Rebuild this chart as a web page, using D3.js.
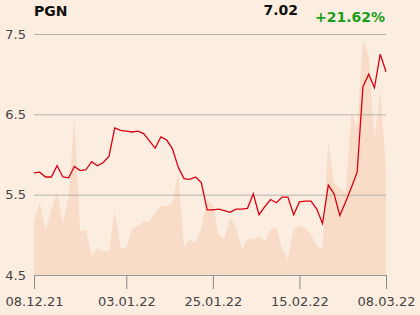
<!DOCTYPE html>
<html>
<head>
<meta charset="utf-8">
<script src="https://cdn.jsdelivr.net/npm/d3@7"></script>
<style>
  html, body { margin: 0; padding: 0; background: #fcede1; }
  svg { display: block; font-family: "DejaVu Sans", sans-serif; }
</style>
</head>
<body>
<svg id="chart" width="420" height="315"></svg>
<script>
// === DATA ===
const ticker = "PGN";
const lastPrice = "7.02";
const change = "+21.62%";

// sessions (index) and labels shown on the x axis
const xTickIdx = [0, 16, 31, 46, 61];
const xTickLabels = ["08.12.21", "03.01.22", "25.01.22", "15.02.22", "08.03.22"];
const yTicks = [4.5, 5.5, 6.5, 7.5];

// closing price, one value per session
const prices = [
  5.77, 5.78, 5.72, 5.72, 5.86, 5.72, 5.71, 5.85, 5.80, 5.81,
  5.91, 5.86, 5.90, 5.98, 6.33, 6.30, 6.29, 6.28, 6.29, 6.26,
  6.17, 6.08, 6.22, 6.18, 6.07, 5.84, 5.70, 5.69, 5.72, 5.65,
  5.31, 5.31, 5.32, 5.30, 5.28, 5.32, 5.32, 5.33, 5.51, 5.25,
  5.35, 5.44, 5.40, 5.47, 5.47, 5.25, 5.41, 5.42, 5.42, 5.32,
  5.14, 5.62, 5.51, 5.24, 5.41, 5.59, 5.78, 6.84, 7.00, 6.83,
  7.25, 7.03
];

// volume (background area)
const volumes = [
  533, 733, 440, 650, 833, 517, 783, 1590, 440, 450,
  190, 267, 240, 240, 643, 267, 273, 467, 490, 540,
  527, 623, 690, 693, 717, 1033, 273, 357, 323, 470,
  750, 700, 400, 370, 573, 483, 260, 357, 357, 390,
  340, 450, 477, 260, 157, 467, 490, 467, 407, 290,
  257, 1350, 917, 867, 817, 1617, 1483, 2350, 2200, 1350,
  1850, 1050
];

// === CONFIG ===
const margin = { top: 34, right: 34, bottom: 40, left: 34 };
const W = 420, H = 315;
const width = W - margin.left - margin.right;
const height = H - margin.top - margin.bottom;
const colors = { line: "#d7000f", area: "#f8dcc8", grid: "#b3b3b3", text: "#444", up: "#1a9e1a" };

const svg = d3.select("#chart");
const g = svg.append("g").attr("transform", `translate(${margin.left},${margin.top})`);

const x = d3.scaleLinear().domain([0, prices.length - 1]).range([0, width]);
const y = d3.scaleLinear().domain([4.5, 7.5]).range([height, 0]);
const yVol = d3.scaleLinear().domain([0, 2410]).range([height, 0]);

// volume area
g.append("path")
  .datum(volumes)
  .attr("fill", colors.area)
  .attr("d", d3.area().x((d, i) => x(i)).y0(height).y1(d => yVol(d)));

// grid lines
g.append("g")
  .call(d3.axisLeft(y).tickValues(yTicks.filter(t => t > 4.5)).tickSize(-width).tickFormat(""))
  .call(a => a.select(".domain").remove())
  .selectAll("line").attr("stroke", colors.grid);

// y labels
g.append("g")
  .selectAll("text")
  .data(yTicks)
  .enter()
  .append("text")
  .attr("x", -8)
  .attr("y", d => y(d))
  .attr("dy", "0.35em")
  .attr("text-anchor", "end")
  .style("font-size", "13px")
  .attr("fill", colors.text)
  .text(d => d.toFixed(1));

// x axis
const xAxis = g.append("g")
  .attr("transform", `translate(0,${height})`)
  .call(d3.axisBottom(x).tickValues(xTickIdx).tickSize(14).tickPadding(8)
    .tickFormat((d, i) => xTickLabels[i]));
xAxis.select(".domain").attr("stroke", "#999");
xAxis.selectAll("line").attr("stroke", "#888");
xAxis.selectAll("text")
  .style("font-size", "13px")
  .style("font-family", "DejaVu Sans, sans-serif")
  .attr("fill", colors.text);

// price line
g.append("path")
  .datum(prices)
  .attr("fill", "none")
  .attr("stroke", colors.line)
  .attr("stroke-width", 1.3)
  .attr("d", d3.line().x((d, i) => x(i)).y(d => y(d)));

// header
svg.append("text")
  .attr("x", 34).attr("y", 16)
  .style("font-size", "14px").style("font-weight", "bold")
  .attr("fill", "#111")
  .text(ticker);

svg.append("text")
  .attr("x", 298).attr("y", 15)
  .attr("text-anchor", "end")
  .style("font-size", "14px").style("font-weight", "bold")
  .attr("fill", "#111")
  .text(lastPrice);

svg.append("text")
  .attr("x", 385).attr("y", 22)
  .attr("text-anchor", "end")
  .style("font-size", "14px").style("font-weight", "bold")
  .attr("fill", colors.up)
  .text(change);
</script>
</body>
</html>
